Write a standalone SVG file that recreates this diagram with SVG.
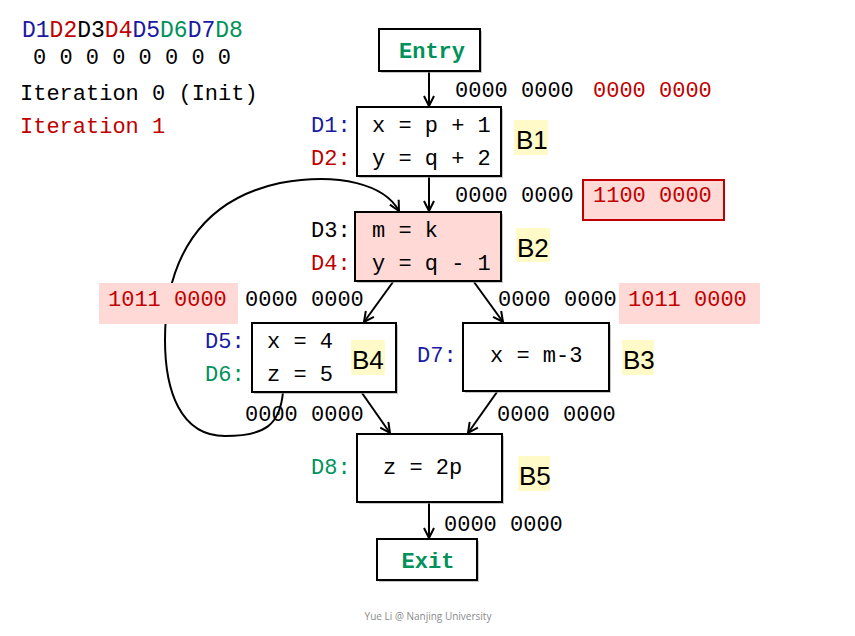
<svg xmlns="http://www.w3.org/2000/svg" width="855" height="636" viewBox="0 0 855 636">
<defs>
<marker id="arr" viewBox="0 0 12 12" refX="11" refY="6" markerWidth="12" markerHeight="12" markerUnits="userSpaceOnUse" orient="auto">
<path d="M1,1 L11,6 L1,11" fill="none" stroke="#000" stroke-width="2"/>
</marker>
</defs>
<style>
text{font-family:"Liberation Mono","DejaVu Sans Mono",monospace;font-size:22px;fill:#000}
.red{fill:#c00000}
.blue{fill:#1a1aa0}
.green{fill:#00925a}
.bold{font-weight:bold}
.box{fill:#fff;stroke:#000;stroke-width:2}
.pink{fill:#ffd9d6}
.sh{fill:#a0a0a0;opacity:0.6}
.ylw{fill:#fffac8}
.bl{font-family:"Liberation Sans","Noto Sans",sans-serif;font-size:26px}
.edge{fill:none;stroke:#000;stroke-width:2;marker-end:url(#arr)}
</style>
<rect width="855" height="636" fill="#fff"/>
<g id="legend">
<text x="22" y="37" style="font-size:23px"><tspan class="blue">D1</tspan><tspan class="red">D2</tspan><tspan>D3</tspan><tspan class="red">D4</tspan><tspan class="blue">D5</tspan><tspan class="green">D6</tspan><tspan class="blue">D7</tspan><tspan class="green">D8</tspan></text>
<text x="33" y="64">0 0 0 0 0 0 0 0</text>
<text x="20" y="100">Iteration 0 (Init)</text>
<text x="20" y="133" class="red">Iteration 1</text>
</g>
<g id="connectors">
<path class="edge" d="M429,72 L429,106"/>
<path class="edge" d="M429,177 L429,211"/>
<path class="edge" d="M393,282 L364,322"/>
<path class="edge" d="M474,282 L503,322"/>
<path class="edge" d="M362,393 L390,433"/>
<path class="edge" d="M497,392 L468,433"/>
<path class="edge" d="M429,503 L429,538"/>
<path class="edge" d="M283,392 C280,425 265,436 225,436 C180,436 165,390 165,340 C165,260 200,200 280,183 C340,172 385,185 399,211"/>
</g>
<g id="entry">
<rect class="sh" x="381" y="31" width="101" height="42"/>
<rect class="box" x="379" y="29" width="101" height="42"/>
<text x="432" y="58" text-anchor="middle" class="green bold">Entry</text>
</g>
<g id="flow-labels">
<text x="455" y="97">0000 0000</text>
<text x="593" y="97" class="red">0000 0000</text>
<text x="455" y="202">0000 0000</text>
<rect x="583" y="180" width="141" height="40" class="pink" stroke="#c00000" stroke-width="2"/>
<text x="593" y="202" class="red">1100 0000</text>
<rect x="99" y="283" width="139" height="41" class="pink"/>
<text x="108" y="306" class="red">1011 0000</text>
<text x="245" y="306">0000 0000</text>
<text x="498" y="306">0000 0000</text>
<rect x="619" y="283" width="141" height="41" class="pink"/>
<text x="628" y="306" class="red">1011 0000</text>
<text x="245" y="421">0000 0000</text>
<text x="497" y="421">0000 0000</text>
<text x="444" y="531">0000 0000</text>
</g>
<g id="B1">
<rect class="sh" x="359" y="109" width="144" height="69"/>
<rect class="box" x="357" y="107" width="144" height="69"/>
<text x="311" y="132" class="blue">D1:</text>
<text x="311" y="165" class="red">D2:</text>
<text x="372" y="132">x = p + 1</text>
<text x="372" y="165">y = q + 2</text>
<rect class="ylw" x="514" y="120" width="34" height="35"/>
<text x="516" y="149" class="bl">B1</text>
</g>
<g id="B2">
<rect class="sh" x="357" y="214" width="146" height="69"/>
<rect class="box pink" x="355" y="212" width="146" height="69"/>
<text x="311" y="237">D3:</text>
<text x="311" y="270" class="red">D4:</text>
<text x="372" y="237">m = k</text>
<text x="372" y="270">y = q - 1</text>
<rect class="ylw" x="516" y="228" width="34" height="34"/>
<text x="517" y="257" class="bl">B2</text>
</g>
<g id="B4">
<rect class="sh" x="254" y="325" width="144" height="69"/>
<rect class="box" x="252" y="323" width="144" height="69"/>
<text x="205" y="348" class="blue">D5:</text>
<text x="205" y="381" class="green">D6:</text>
<text x="267" y="348">x = 4</text>
<text x="267" y="381">z = 5</text>
<rect class="ylw" x="351" y="340" width="34" height="35"/>
<text x="352" y="369" class="bl">B4</text>
</g>
<g id="B3">
<rect class="sh" x="465" y="325" width="146" height="68"/>
<rect class="box" x="463" y="323" width="146" height="68"/>
<text x="417" y="362" class="blue">D7:</text>
<text x="490" y="362">x = m-3</text>
<rect class="ylw" x="622" y="340" width="32" height="35"/>
<text x="623" y="369" class="bl">B3</text>
</g>
<g id="B5">
<rect class="sh" x="359" y="436" width="145" height="68"/>
<rect class="box" x="357" y="434" width="145" height="68"/>
<text x="311" y="474" class="green">D8:</text>
<text x="383" y="474">z = 2p</text>
<rect class="ylw" x="518" y="456" width="32" height="35"/>
<text x="519" y="485" class="bl">B5</text>
</g>
<g id="exit">
<rect class="sh" x="379" y="541" width="100" height="41"/>
<rect class="box" x="377" y="539" width="100" height="41"/>
<text x="428" y="568" text-anchor="middle" class="green bold">Exit</text>
</g>
<text x="428" y="620" text-anchor="middle" style="font-family:'Open Sans','Liberation Sans',sans-serif;font-size:10px;fill:#8a8a8a">Yue Li @ Nanjing University</text>
</svg>
